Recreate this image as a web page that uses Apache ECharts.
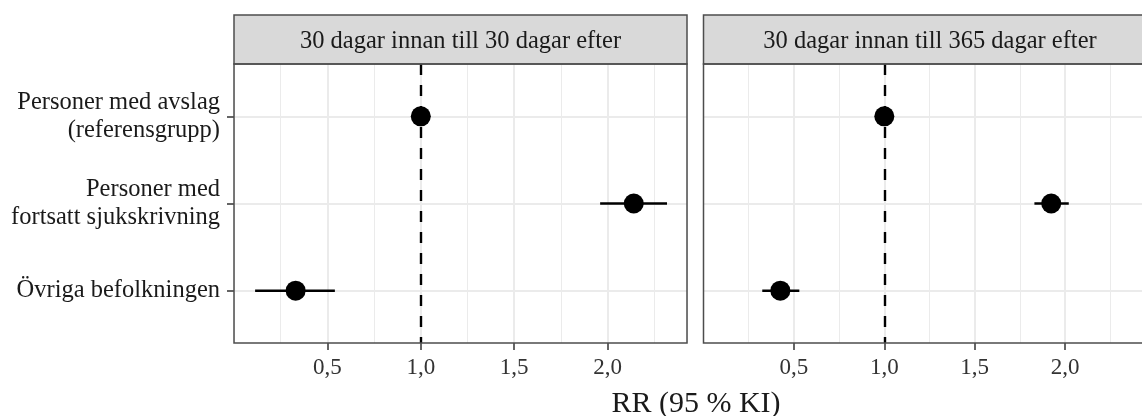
<!DOCTYPE html>
<html>
<head>
<meta charset="utf-8">
<script src="https://cdn.jsdelivr.net/npm/echarts@6.0.0/dist/echarts.min.js"></script>
<style>
  html, body { margin: 0; padding: 0; background: #fff; }
  #main { width: 1142px; height: 416px; }
</style>
</head>
<body>
<div id="main"></div>
<script>
// kategorier (uppifrån och ned)
var categories = ['Personer med avslag\n(referensgrupp)', 'Personer med\nfortsatt sjukskrivning', 'Övriga befolkningen'];
var panelTitles = ['30 dagar innan till 30 dagar efter', '30 dagar innan till 365 dagar efter'];

// RR med 95 % KI, 30 dagar efter
var rr30 = [1.0, 2.14, 0.33];
var lo30 = [1.0, 1.96, 0.113];
var hi30 = [1.0, 2.318, 0.54];

// RR med 95 % KI, 365 dagar efter
var rr365 = [1.0, 1.923, 0.425];
var lo365 = [1.0, 1.83, 0.325];
var hi365 = [1.0, 2.02, 0.53];

var xTicks = [0.5, 1.0, 1.5, 2.0];
var xMax = 2.425;
var refValue = 1.0;

var serif = '"Liberation Serif", "DejaVu Serif", serif';
var rowPos = categories.map(function (c, i) { return i + 1; });

var panels = [
    { left: 234, rr: rr30, lo: lo30, hi: hi30 },
    { left: 703.5, rr: rr365, lo: lo365, hi: hi365 }
];
var panelW = 453, panelTop = 64, panelH = 279;

var chart = echarts.init(document.getElementById('main'));

var grids = [], xAxes = [], minorAxes = [], yAxes = [], series = [], graphics = [];

panels.forEach(function (p, gi) {
    grids.push({ left: p.left, top: panelTop, width: panelW, height: panelH, containLabel: false });

    // huvudaxel
    xAxes.push({
        type: 'value', gridIndex: gi, min: 0, max: xMax, interval: 0.5, position: 'bottom',
        axisLine: { show: false },
        axisTick: { show: true, customValues: xTicks, length: 7, lineStyle: { color: '#333', width: 1.5 } },
        axisLabel: {
            customValues: xTicks, margin: 13, fontFamily: serif, fontSize: 23, color: '#333',
            formatter: function (v) { return v.toFixed(1).replace('.', ','); }
        },
        splitLine: { show: true, lineStyle: { color: '#EBEBEB', width: 2 } }
    });
    // hjälpaxel för små rutnätslinjer
    minorAxes.push({
        type: 'value', gridIndex: gi, min: 0, max: xMax, interval: 0.25, position: 'top',
        axisLine: { show: false }, axisTick: { show: false }, axisLabel: { show: false },
        splitLine: { show: true, lineStyle: { color: '#EBEBEB', width: 1 } }
    });

    yAxes.push({
        type: 'value', gridIndex: gi, min: 0.4, max: 3.6, inverse: true,
        axisLine: { show: false },
        axisTick: { show: gi === 0, customValues: rowPos, length: 7, lineStyle: { color: '#333', width: 1.5 } },
        axisLabel: {
            show: gi === 0, customValues: rowPos, margin: 14, fontFamily: serif, fontSize: 24.5,
            lineHeight: 28, color: '#1a1a1a', align: 'right',
            formatter: function (v) { return categories[Math.round(v) - 1]; }
        },
        splitLine: { show: true, lineStyle: { color: '#EBEBEB', width: 2 } }
    });

    var ciData = p.rr.map(function (v, i) { return [p.lo[i], p.hi[i], i + 1]; });
    var ptData = p.rr.map(function (v, i) { return [v, i + 1]; });

    series.push({
        type: 'custom', xAxisIndex: gi, yAxisIndex: gi, z: 3,
        data: ciData,
        renderItem: function (params, api) {
            var a = api.coord([api.value(0), api.value(2)]);
            var b = api.coord([api.value(1), api.value(2)]);
            return { type: 'line', shape: { x1: a[0], y1: a[1], x2: b[0], y2: b[1] },
                     style: { stroke: '#000', lineWidth: 2.6 } };
        }
    });
    series.push({
        type: 'scatter', xAxisIndex: gi, yAxisIndex: gi, z: 4,
        symbol: 'circle', symbolSize: 20, itemStyle: { color: '#000', opacity: 1 },
        data: ptData,
        markLine: {
            silent: true, symbol: 'none', label: { show: false },
            lineStyle: { color: '#000', width: 2.4, type: [11, 10], opacity: 1 },
            data: [{ xAxis: refValue }]
        }
    });

    // rubrikremsa
    graphics.push({
        type: 'rect', z: 10,
        shape: { x: p.left, y: 15, width: panelW, height: panelTop - 15 },
        style: { fill: '#D9D9D9', stroke: '#4d4d4d', lineWidth: 1.5 }
    });
    graphics.push({
        type: 'text', z: 11, x: p.left + panelW / 2, y: 41.5,
        style: { text: panelTitles[gi], font: '24.5px ' + serif, fill: '#1a1a1a',
                 textAlign: 'center', textVerticalAlign: 'middle' }
    });
    // panelram
    graphics.push({
        type: 'rect', z: 10,
        shape: { x: p.left, y: panelTop, width: panelW, height: panelH },
        style: { fill: 'none', stroke: '#4d4d4d', lineWidth: 1.5 }
    });
});

graphics.push({
    type: 'text', z: 11, x: 696, y: 404,
    style: { text: 'RR (95 % KI)', font: '30px ' + serif, fill: '#1a1a1a',
             textAlign: 'center', textVerticalAlign: 'middle' }
});

chart.setOption({
    backgroundColor: '#fff',
    animation: false,
    grid: grids,
    xAxis: xAxes.concat(minorAxes),
    yAxis: yAxes,
    series: series,
    graphic: graphics
});
</script>
</body>
</html>
